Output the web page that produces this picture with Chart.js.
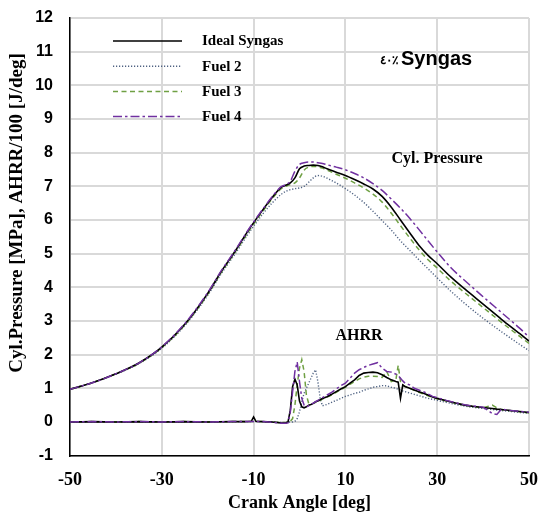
<!DOCTYPE html>
<html>
<head>
<meta charset="utf-8">
<script src="https://cdn.jsdelivr.net/npm/chart.js@4.4.1/dist/chart.umd.min.js"></script>
<style>
  html, body { margin: 0; padding: 0; background: #fff; }
  #wrap { width: 539px; height: 512px; position: relative; }
</style>
</head>
<body>
<div id="wrap"><canvas id="c" width="539" height="512"></canvas></div>
<script>
// ---------- DATA ----------
const seriesNames = ['Ideal Syngas', 'Fuel 2', 'Fuel 3', 'Fuel 4'];
const xTicks = [-50, -30, -10, 10, 30, 50];
const yTicks = [-1, 0, 1, 2, 3, 4, 5, 6, 7, 8, 9, 10, 11, 12];

// Cylinder pressure [MPa]
const pressAngle = [-50,-45,-40,-35,-30,-25,-20,-17,-14,-11,
  -8,-6,-4,-3,-2,-1,0,1,2,3,
  4,5,6,8,10,12,14,16,18,20,
  22,24,26,28,30,33,36,40,44,48,
  50];
const pIdeal = [0.97,1.17,1.43,1.75,2.22,2.90,3.82,4.48,5.08,5.72,
  6.30,6.66,6.97,7.03,7.10,7.25,7.52,7.60,7.62,7.63,
  7.62,7.58,7.52,7.42,7.32,7.20,7.07,6.92,6.70,6.38,
  6.00,5.62,5.25,4.95,4.70,4.30,3.95,3.50,3.05,2.62,
  2.40];
const pFuel2 = [0.97,1.17,1.42,1.73,2.19,2.86,3.76,4.41,5.00,5.62,
  6.18,6.50,6.76,6.85,6.90,6.93,6.95,7.00,7.12,7.25,
  7.32,7.30,7.24,7.10,6.93,6.74,6.52,6.26,5.98,5.70,
  5.38,5.10,4.82,4.55,4.28,3.88,3.52,3.08,2.68,2.30,
  2.12];
const pFuel3 = [0.97,1.17,1.43,1.74,2.21,2.88,3.79,4.45,5.05,5.68,
  6.26,6.62,6.93,7.00,7.05,7.10,7.25,7.48,7.57,7.59,
  7.58,7.54,7.48,7.36,7.24,7.10,6.95,6.77,6.53,6.20,
  5.83,5.47,5.12,4.82,4.57,4.18,3.84,3.40,2.96,2.54,
  2.33];
const pFuel4 = [0.97,1.17,1.43,1.75,2.23,2.92,3.84,4.50,5.10,5.74,
  6.32,6.68,6.99,7.05,7.15,7.45,7.65,7.70,7.72,7.72,
  7.70,7.68,7.64,7.57,7.49,7.38,7.25,7.08,6.88,6.62,
  6.35,6.05,5.72,5.38,5.05,4.58,4.20,3.72,3.25,2.78,
  2.52];

// Apparent heat release rate / 100 [J/deg]
const ahrrAngle = [-50,-45,-40,-35,-30,-25,-20,-15,-12,-10.5,
  -10,-9.5,-8,-6,-4,-3,-2.5,-2,-1.5,-1,
  -0.5,0,0.5,1,1.5,2,2.5,3,3.5,4,
  4.5,5,6,7,8,9,10,11,12,13,
  14,15,16,17,18,19,20,21,21.5,22,
  22.5,23,24,25,26,27,28,29,30,32,
  34,36,38,40,42,43,44,46,48,50];
const aIdeal = [0,0.01,0,0.01,0,0.01,0,0.01,0.01,0.02,
  0.15,0.02,0.01,0,-0.03,-0.03,0,0.35,1.05,1.27,
  1.10,0.62,0.45,0.42,0.45,0.50,0.52,0.55,0.60,0.62,
  0.66,0.70,0.75,0.82,0.90,0.98,1.05,1.15,1.25,1.38,
  1.45,1.47,1.48,1.46,1.40,1.32,1.25,1.20,1.18,0.70,
  1.10,1.05,1.00,0.95,0.90,0.85,0.80,0.74,0.70,0.63,
  0.56,0.50,0.46,0.43,0.40,0.38,0.37,0.34,0.31,0.28];
const aFuel2 = [0,0.01,0,0.01,0,0.01,0,0.01,0.01,0.01,
  0.01,0.01,0.01,0,-0.02,-0.02,0,0,0,0.02,
  0.10,0.30,0.60,0.85,1.00,1.15,1.30,1.45,1.55,1.20,
  0.70,0.48,0.52,0.58,0.64,0.70,0.76,0.80,0.85,0.88,
  0.94,0.98,1.03,1.05,1.08,1.07,1.03,1.00,0.97,0.95,
  0.92,0.90,0.86,0.82,0.78,0.74,0.70,0.67,0.64,0.58,
  0.52,0.47,0.43,0.40,0.37,0.35,0.34,0.31,0.28,0.26];
const aFuel3 = [0,0.01,0,0.01,0,0.01,0,0.01,0.01,0.01,
  0.01,0.01,0.01,0,-0.02,-0.02,0,0.02,0.10,0.50,
  1.10,1.60,1.85,1.50,0.80,0.55,0.52,0.55,0.58,0.60,
  0.64,0.68,0.74,0.80,0.88,0.96,1.03,1.12,1.20,1.28,
  1.33,1.36,1.36,1.35,1.32,1.50,1.20,1.25,1.68,1.20,
  1.10,1.05,1.00,0.94,0.88,0.83,0.78,0.73,0.69,0.62,
  0.55,0.50,0.46,0.42,0.50,0.42,0.37,0.33,0.30,0.27];
const aFuel4 = [0,0.01,0,0.01,0,0.01,0,0.01,0.01,0.01,
  0.01,0.01,0.01,-0.01,-0.04,-0.04,-0.03,0.30,0.90,1.50,
  1.78,1.20,0.70,0.50,0.45,0.48,0.52,0.56,0.60,0.64,
  0.68,0.72,0.80,0.88,0.98,1.08,1.15,1.30,1.45,1.55,
  1.62,1.68,1.72,1.76,1.60,1.50,1.48,1.42,1.38,1.30,
  1.22,1.15,1.10,1.00,0.95,0.90,0.83,0.76,0.72,0.64,
  0.57,0.51,0.47,0.44,0.25,0.22,0.38,0.34,0.31,0.29];

// ---------- STYLE ----------
const styles = [
  { color: '#000000', dash: [], width: 1.6 },
  { color: '#4f6282', dash: [1.2, 1.8], width: 1.4 },
  { color: '#6fa043', dash: [5, 3.5], width: 1.5 },
  { color: '#7030a0', dash: [9, 3, 2.5, 3], width: 1.5 }
];
const pressSeries = [pIdeal, pFuel2, pFuel3, pFuel4];
const ahrrSeries = [aIdeal, aFuel2, aFuel3, aFuel4];

const toPts = (xs, ys) => xs.map((x, i) => ({ x: x, y: ys[i] }));
const drawOrder = [3, 0, 2, 1]; // purple on top

const datasets = [];
drawOrder.forEach((s, k) => {
  datasets.push({
    label: seriesNames[s],
    data: toPts(pressAngle, pressSeries[s]),
    borderColor: styles[s].color,
    borderDash: styles[s].dash,
    borderWidth: styles[s].width,
    pointRadius: 0,
    cubicInterpolationMode: 'monotone',
    fill: false,
    order: k
  });
  datasets.push({
    label: seriesNames[s] + ' AHRR',
    data: toPts(ahrrAngle, ahrrSeries[s]),
    borderColor: styles[s].color,
    borderDash: styles[s].dash,
    borderWidth: styles[s].width,
    pointRadius: 0,
    tension: 0,
    fill: false,
    order: k
  });
});

const SERIF = "'Liberation Serif', 'Times New Roman', serif";
const SANS = "'Liberation Sans', Arial, sans-serif";
const yTitle = 'Cyl.Pressure [MPa], AHRR/100 [J/deg]';

const overlay = {
  id: 'overlay',
  afterDatasetsDraw(chart) {
    const ctx = chart.ctx;
    ctx.save();
    // legend
    const x0 = 113, x1 = 182, tx = 202;
    seriesNames.forEach((name, i) => {
      const y = 41 + i * 25.2;
      ctx.beginPath();
      ctx.setLineDash(styles[i].dash);
      ctx.strokeStyle = styles[i].color;
      ctx.lineWidth = styles[i].width;
      ctx.moveTo(x0, y);
      ctx.lineTo(x1, y);
      ctx.stroke();
      ctx.setLineDash([]);
      ctx.fillStyle = '#000';
      ctx.font = 'bold 15px ' + SERIF;
      ctx.textAlign = 'left';
      ctx.textBaseline = 'middle';
      ctx.fillText(name, tx, y + 0.5);
    });
    // annotations
    ctx.fillStyle = '#000';
    ctx.textAlign = 'center';
    ctx.textBaseline = 'middle';
    ctx.font = 'bold 16px ' + SERIF;
    ctx.fillText('Cyl. Pressure', 437, 159);
    ctx.fillText('AHRR', 359, 336);
    ctx.textBaseline = 'alphabetic';
    ctx.textAlign = 'left';
    ctx.font = 'bold 20px ' + SANS;
    ctx.fillText('Syngas', 401, 65);
    ctx.textAlign = 'right';
    ctx.font = 'bold 12px ' + SANS;
    ctx.fillText('٤٠٪', 398, 64);
    // y axis title
    ctx.translate(17, 213);
    ctx.rotate(-Math.PI / 2);
    ctx.textAlign = 'center';
    ctx.textBaseline = 'middle';
    ctx.font = 'bold 19px ' + SERIF;
    ctx.fillText(yTitle, 0, 0);
    ctx.restore();
  }
};

new Chart(document.getElementById('c'), {
  type: 'line',
  data: { datasets: datasets },
  options: {
    responsive: false,
    animation: false,
    layout: { padding: { top: 18, right: 10, left: 0, bottom: 0 } },
    plugins: { legend: { display: false }, tooltip: { enabled: false } },
    scales: {
      x: {
        type: 'linear',
        min: -50, max: 50,
        afterBuildTicks(scale) { scale.ticks = xTicks.map(v => ({ value: v })); },
        afterFit(scale) { scale.height = 56.4; scale.paddingLeft = 0; scale.paddingRight = 0; },
        grid: { color: '#d9d9d9', lineWidth: 2, drawTicks: false },
        border: { color: '#000', width: 1.5 },
        ticks: {
          padding: 14,
          color: '#000',
          font: { family: SERIF, size: 18, weight: 'bold' },
          maxRotation: 0
        },
        title: {
          display: true,
          text: 'Crank Angle [deg]',
          color: '#000',
          font: { family: SERIF, size: 18, weight: 'bold', lineHeight: 1 },
          padding: { top: 0, bottom: 0 }
        }
      },
      y: {
        type: 'linear',
        min: -1, max: 12,
        afterBuildTicks(scale) { scale.ticks = yTicks.map(v => ({ value: v })); },
        afterFit(scale) { scale.width = 70; scale.paddingTop = 0; scale.paddingBottom = 0; },
        grid: { color: '#d9d9d9', lineWidth: 2, drawTicks: false },
        border: { color: '#000', width: 1.5 },
        ticks: {
          padding: 17,
          color: '#000',
          font: { family: SANS, size: 16, weight: 'bold' }
        },
        title: { display: false }
      }
    }
  },
  plugins: [overlay]
});
</script>
</body>
</html>
